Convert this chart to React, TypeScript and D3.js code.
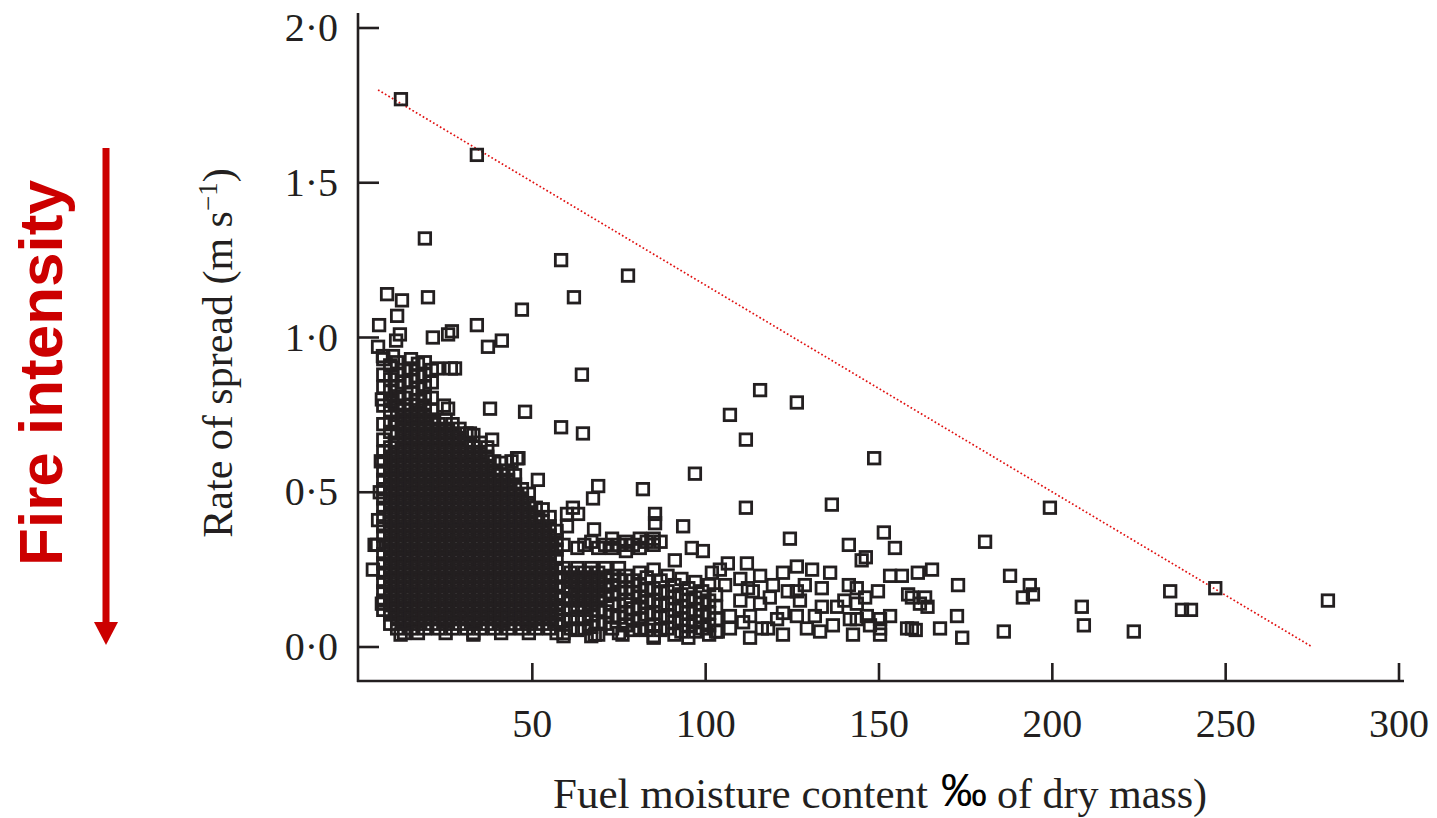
import React from 'react';
import * as d3 from 'd3';

const W = 1437;
const H = 818;

// axis ticks
const xTicks = [50, 100, 150, 200, 250, 300];
const yTicks = [0, 0.5, 1.0, 1.5, 2.0];
const yTickLabels = ['0·0', '0·5', '1·0', '1·5', '2·0'];

// upper boundary line (moisture %, rate m/s)
const boundaryLine: [number, number][] = [[5.5, 1.8], [275, 0]];

// dense core of observations: moisture (%) columns, rates in cm/s
const coreMoisture = [7, 9, 11, 13, 15, 17, 19, 21, 23, 25, 27, 29, 31, 33, 35, 37, 39, 41, 43, 45, 47, 49, 51, 53, 55, 57];
const coreRateCm = [
  [93, 88, 84, 78, 72, 67, 63, 60, 57, 54, 51, 48, 45, 42, 39, 36, 33, 30, 27, 24, 21, 18, 15, 12],
  [91, 86.5, 82.5, 79.5, 76.5, 72.5, 69.5, 64.5, 61.5, 58.5, 55.5, 52.5, 49.5, 46.5, 43.5, 40.5, 37.5, 34.5, 31.5, 28.5, 25.5, 22.5, 19.5, 16.5, 13.5, 10.5, 7.5],
  [92, 88, 84, 81, 78, 75, 72, 69, 66, 63, 60, 57, 54, 51, 48, 45, 42, 39, 36, 33, 30, 27, 24, 21, 18, 15, 12, 9, 6],
  [89.5, 85.5, 80.5, 76.5, 73.5, 70.5, 67.5, 64.5, 61.5, 58.5, 55.5, 52.5, 49.5, 46.5, 43.5, 40.5, 37.5, 34.5, 31.5, 28.5, 25.5, 22.5, 19.5, 16.5, 13.5, 10.5, 7.5, 4.5],
  [93, 90, 86, 82, 78, 75, 72, 69, 66, 63, 60, 57, 54, 51, 48, 45, 42, 39, 36, 33, 30, 27, 24, 21, 18, 15, 12, 9, 6],
  [91.5, 87.5, 83.5, 79.5, 76.5, 73.5, 70.5, 67.5, 64.5, 61.5, 58.5, 55.5, 52.5, 49.5, 46.5, 43.5, 40.5, 37.5, 34.5, 31.5, 28.5, 25.5, 22.5, 19.5, 16.5, 13.5, 10.5, 7.5, 4.5],
  [92, 88, 84, 81, 78, 75, 72, 69, 66, 63, 60, 57, 54, 51, 48, 45, 42, 39, 36, 33, 30, 27, 24, 21, 18, 15, 12, 9, 6],
  [89.5, 85.5, 80.5, 76.5, 73.5, 70.5, 67.5, 64.5, 61.5, 58.5, 55.5, 52.5, 49.5, 46.5, 43.5, 40.5, 37.5, 34.5, 31.5, 28.5, 25.5, 22.5, 19.5, 16.5, 13.5, 10.5, 7.5],
  [72, 69, 66, 63, 60, 57, 54, 51, 48, 45, 42, 39, 36, 33, 30, 27, 24, 21, 18, 15, 12, 9, 6],
  [73.5, 70.5, 67.5, 64.5, 61.5, 58.5, 55.5, 52.5, 49.5, 46.5, 43.5, 40.5, 37.5, 34.5, 31.5, 28.5, 25.5, 22.5, 19.5, 16.5, 13.5, 10.5, 7.5, 4.5],
  [72, 69, 66, 63, 60, 57, 54, 51, 48, 45, 42, 39, 36, 33, 30, 27, 24, 21, 18, 15, 12, 9, 6],
  [70.5, 67.5, 64.5, 61.5, 58.5, 55.5, 52.5, 49.5, 46.5, 43.5, 40.5, 37.5, 34.5, 31.5, 28.5, 25.5, 22.5, 19.5, 16.5, 13.5, 10.5, 7.5],
  [69, 66, 63, 60, 57, 54, 51, 48, 45, 42, 39, 36, 33, 30, 27, 24, 21, 18, 15, 12, 9, 6],
  [68.5, 64.5, 61.5, 58.5, 55.5, 52.5, 49.5, 46.5, 43.5, 40.5, 37.5, 34.5, 31.5, 28.5, 25.5, 22.5, 19.5, 16.5, 13.5, 10.5, 7.5, 4.5],
  [66, 63, 60, 57, 54, 51, 48, 45, 42, 39, 36, 33, 30, 27, 24, 21, 18, 15, 12, 9, 6],
  [64.5, 61.5, 58.5, 55.5, 52.5, 49.5, 46.5, 43.5, 40.5, 37.5, 34.5, 31.5, 28.5, 25.5, 22.5, 19.5, 16.5, 13.5, 10.5, 7.5],
  [60, 57, 54, 51, 48, 45, 42, 39, 36, 33, 30, 27, 24, 21, 18, 15, 12, 9, 6],
  [59.5, 55.5, 52.5, 49.5, 46.5, 43.5, 40.5, 37.5, 34.5, 31.5, 28.5, 25.5, 22.5, 19.5, 16.5, 13.5, 10.5, 7.5, 4.5],
  [57, 54, 51, 48, 45, 42, 39, 36, 33, 30, 27, 24, 21, 18, 15, 12, 9, 6],
  [55.5, 52.5, 49.5, 46.5, 43.5, 40.5, 37.5, 34.5, 31.5, 28.5, 25.5, 22.5, 19.5, 16.5, 13.5, 10.5, 7.5],
  [51, 48, 45, 42, 39, 36, 33, 30, 27, 24, 21, 18, 15, 12, 9, 6],
  [49.5, 46.5, 43.5, 40.5, 37.5, 34.5, 31.5, 28.5, 25.5, 22.5, 19.5, 16.5, 13.5, 10.5, 7.5, 4.5],
  [45, 42, 39, 36, 33, 30, 27, 24, 21, 18, 15, 12, 9, 6],
  [44.5, 40.5, 37.5, 34.5, 31.5, 28.5, 25.5, 22.5, 19.5, 16.5, 13.5, 10.5, 7.5],
  [42, 39, 36, 33, 30, 27, 24, 21, 18, 15, 12, 9, 6],
  [37.5, 34.5, 31.5, 28.5, 25.5, 22.5, 19.5, 16.5, 13.5, 10.5, 7.5, 4.5],
];

// lower band of observations at moderate moisture: moisture (%) columns, rates in cm/s
const bandMoisture = [59, 61, 63, 65, 67, 69, 71, 73, 75, 77, 79, 81, 83, 85, 87, 89, 91, 93, 95, 97, 99, 101, 103];
const bandRateCm = [
  [33, 25.5, 22.5, 19.5, 15.5, 12.5, 8.5, 4.5],
  [24, 21, 18, 15, 12, 9, 6],
  [32, 25.5, 22.5, 19.5, 16.5, 13.5, 9.5, 5.5],
  [33, 24, 21, 18, 15, 12, 9, 6],
  [34, 25.5, 22.5, 19.5, 16.5, 13.5, 10.5, 6.5, 3.5],
  [32, 24, 21, 18, 15, 12, 8, 4],
  [33, 25.5, 22.5, 19.5, 16.5, 11.5, 7.5],
  [35, 32, 23, 20, 17, 14, 10, 6],
  [33, 25.5, 21.5, 17.5, 13.5, 9.5, 4.5],
  [34, 31, 23, 19, 15, 11, 7],
  [33, 21.5, 17.5, 12.5, 8.5, 5.5],
  [35, 32, 24, 20, 16, 13, 9, 6],
  [34, 22.5, 18.5, 14.5, 10.5, 5.5],
  [35, 33, 25, 19, 15, 11, 7, 3],
  [34, 21.5, 17.5, 13.5, 9.5, 5.5],
  [23, 18, 14, 10, 6],
  [20, 16, 12, 8, 4],
  [22, 17, 13, 9, 5],
  [19, 15, 11, 7, 3],
  [21, 16, 12, 8, 5],
  [18, 14, 10, 6],
  [20, 15, 11, 7, 4],
  [17, 13, 9, 5],
];

// individually readable observations: [moisture %, rate m/s]
const scatteredPoints: [number, number][] = [
  [12.1, 1.77], [34.0, 1.59], [19.0, 1.32], [58.3, 1.25], [77.6, 1.20], [19.9, 1.13],
  [62.0, 1.13], [8.1, 1.14], [12.4, 1.12], [47.0, 1.09], [5.8, 1.04], [11.0, 1.07],
  [11.8, 1.01], [10.7, 0.99], [21.3, 1.00], [25.7, 1.01], [26.8, 1.02], [34.0, 1.04],
  [37.2, 0.97], [41.2, 0.99], [5.5, 0.97], [64.3, 0.88], [37.8, 0.77], [47.9, 0.76],
  [58.3, 0.71], [64.6, 0.69], [45.6, 0.61], [22.5, 0.90], [26.5, 0.90], [27.7, 0.90],
  [24.5, 0.78], [25.7, 0.77], [6.9, 0.94], [9.8, 0.94], [6.6, 0.80], [38.4, 0.67],
  [32.0, 0.69], [44.0, 0.60], [46.0, 0.61],
  [4.0, 0.25], [5.2, 0.33], [6.6, 0.14], [5.5, 0.41], [6.0, 0.50], [6.3, 0.60], [4.5, 0.33],
  [12.0, 0.04], [33.0, 0.04], [59.0, 0.035], [68.0, 0.04], [76.0, 0.04], [85.0, 0.035],
  [51.6, 0.54], [69.0, 0.52], [67.5, 0.48], [81.9, 0.51], [96.9, 0.56], [61.7, 0.45],
  [63.2, 0.43], [60.0, 0.43], [60.0, 0.39], [67.8, 0.38], [85.4, 0.43], [85.4, 0.40],
  [93.5, 0.39], [96.0, 0.32], [99.2, 0.31], [91.1, 0.28], [101.8, 0.24],
  [107.0, 0.75], [115.7, 0.83], [126.3, 0.79], [111.6, 0.67], [148.6, 0.61], [111.6, 0.45],
  [136.4, 0.46], [199.3, 0.45], [151.4, 0.37], [141.3, 0.33], [154.6, 0.32], [180.6, 0.34],
  [124.3, 0.35], [126.3, 0.26], [146.2, 0.29], [145.0, 0.28],
  [111.9, 0.27], [106.4, 0.27], [104.1, 0.25], [122.3, 0.24], [135.9, 0.24], [153.2, 0.23],
  [156.6, 0.23], [158.4, 0.17], [149.7, 0.18], [141.3, 0.20], [143.6, 0.19], [133.5, 0.19],
  [128.6, 0.20], [119.4, 0.20], [123.7, 0.18], [126.3, 0.18], [112.2, 0.19], [113.6, 0.18],
  [105.6, 0.20], [107.0, 0.10], [112.8, 0.10], [122.3, 0.11], [126.3, 0.10], [133.5, 0.13],
  [137.9, 0.13], [136.7, 0.07], [143.6, 0.14], [143.6, 0.09], [146.5, 0.10], [150.3, 0.09],
  [153.2, 0.10], [158.1, 0.06], [103.5, 0.05], [112.8, 0.03], [118.0, 0.06], [122.3, 0.04],
  [129.2, 0.06], [133.0, 0.05], [142.5, 0.04], [150.3, 0.04], [150.3, 0.06], [147.4, 0.07],
  [116.2, 0.06], [120.6, 0.09], [110.8, 0.08], [107.0, 0.06],
  [110.0, 0.15], [115.7, 0.14], [118.5, 0.16], [127.2, 0.15], [131.5, 0.10], [140.0, 0.15],
  [146.0, 0.16], [115.7, 0.23], [110.0, 0.22], [130.7, 0.25], [141.6, 0.09],
  [161.2, 0.24], [165.3, 0.25], [172.8, 0.20], [159.5, 0.16], [161.8, 0.14], [163.3, 0.16],
  [164.0, 0.13], [159.5, 0.06], [160.6, 0.055], [167.6, 0.06], [172.5, 0.10], [174.0, 0.03],
  [186.0, 0.05], [187.8, 0.23], [193.5, 0.20], [194.4, 0.17], [191.5, 0.16], [208.5, 0.13],
  [209.1, 0.07], [223.5, 0.05], [234.0, 0.18], [247.0, 0.19], [237.4, 0.12], [240.0, 0.12],
  [279.5, 0.15],
];

const INK = '#231f20';
const SERIF = "'Liberation Serif', 'Times New Roman', serif";
const SANS = "'Liberation Sans', Arial, sans-serif";

export default function App() {
  const x = d3.scaleLinear().domain([0, 300]).range([359, 1399]);
  const y = d3.scaleLinear().domain([0, 2]).range([647, 28]);

  const points: [number, number][] = [];
  coreMoisture.forEach((m, i) => coreRateCm[i].forEach((r) => points.push([m, r / 100])));
  bandMoisture.forEach((m, i) => bandRateCm[i].forEach((r) => points.push([m, r / 100])));
  scatteredPoints.forEach((p) => points.push(p));

  const line = d3.line<[number, number]>().x((d) => x(d[0])).y((d) => y(d[1]));
  const s = 11.5;
  const axisX = 358;
  const axisY = 681;

  return (
    <svg width={W} height={H} style={{ position: 'absolute', left: 0, top: 0, background: '#fff' }}>
      {/* red arrow and label */}
      <line x1={106} y1={148} x2={106} y2={625} stroke="#cc0000" strokeWidth={7} />
      <polygon points="94,622 118,622 106,645" fill="#cc0000" />
      <text
        transform="translate(62,373) rotate(-90)"
        textAnchor="middle"
        fontFamily={SANS}
        fontWeight="bold"
        fontSize={62}
        fill="#cc0000"
      >
        Fire intensity
      </text>

      {/* axes */}
      <line x1={axisX} y1={13} x2={axisX} y2={axisY + 1} stroke={INK} strokeWidth={2.6} />
      <line x1={axisX - 1} y1={axisY} x2={1404} y2={axisY} stroke={INK} strokeWidth={2.6} />
      {yTicks.map((t, i) => (
        <g key={'yt' + i}>
          <line x1={axisX} x2={axisX + 21} y1={y(t)} y2={y(t)} stroke={INK} strokeWidth={2.6} />
          <text x={338} y={y(t) + 13} textAnchor="end" fontFamily={SERIF} fontSize={40} fill={INK}>
            {yTickLabels[i]}
          </text>
        </g>
      ))}
      {xTicks.map((t, i) => (
        <g key={'xt' + i}>
          <line x1={x(t)} x2={x(t)} y1={axisY} y2={axisY - 18} stroke={INK} strokeWidth={2.6} />
          <text x={x(t)} y={737} textAnchor="middle" fontFamily={SERIF} fontSize={40} fill={INK}>
            {t}
          </text>
        </g>
      ))}

      {/* axis titles */}
      <text
        transform="translate(232,353) rotate(-90)"
        textAnchor="middle"
        fontFamily={SERIF}
        fontSize={42}
        fill={INK}
      >
        Rate of spread (m s<tspan dy={-15} fontSize={27}>−1</tspan>
        <tspan dy={15}>)</tspan>
      </text>
      <text x={553} y={808} fontFamily={SERIF} fontSize={43} fill={INK}>
        Fuel moisture content
      </text>
      <text x={941} y={806} fontFamily={SANS} fontSize={46} fill="#000">
        ‰
      </text>
      <text x={997} y={808} fontFamily={SERIF} fontSize={42} fill={INK}>
        of dry mass)
      </text>

      {/* boundary line */}
      <path
        d={line(boundaryLine) || ''}
        fill="none"
        stroke="#e01010"
        strokeWidth={1.7}
        strokeDasharray="1.7 2.3"
      />

      {/* observations */}
      <g fill="none" stroke={INK} strokeWidth={2.8}>
        {points.map((p, i) => (
          <rect key={i} x={x(p[0]) - s / 2} y={y(p[1]) - s / 2} width={s} height={s} />
        ))}
      </g>
    </svg>
  );
}
